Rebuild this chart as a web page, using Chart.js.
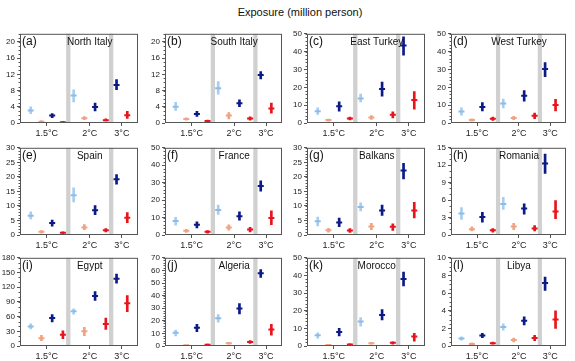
<!DOCTYPE html>
<html>
<head>
<meta charset="utf-8">
<script src="https://cdn.jsdelivr.net/npm/chart.js@4.4.1/dist/chart.umd.min.js"></script>
<style>
body { margin: 0; background: #fff; width: 575px; height: 361px; position: relative; overflow: hidden; font-family: "Liberation Sans", Arial, sans-serif; }
#title { position: absolute; left: 0; width: 600px; top: 6px; text-align: center; font-size: 11px; color: #111; }
canvas { position: absolute; }
</style>
</head>
<body>
<div id="title">Exposure (million person)</div>
<script>
// panels
const regions = ['North Italy', 'South Italy', 'East Turkey', 'West Turkey',
                 'Spain', 'France', 'Balkans', 'Romania',
                 'Egypt', 'Algeria', 'Morocco', 'Libya'];
const tags = ['(a)', '(b)', '(c)', '(d)', '(e)', '(f)', '(g)', '(h)', '(i)', '(j)', '(k)', '(l)'];
const yMax = [22, 22, 50, 50, 30, 50, 30, 15, 180, 70, 50, 10];
const yStep = [4, 4, 10, 10, 5, 10, 5, 3, 30, 10, 10, 2];

// x slots: warming level and series of each point
const levels = ['1.5°C', '2°C', '3°C'];
const slotLevel = [0, 0, 0, 0, 1, 1, 1, 1, 2, 2];
const slotSeries = [0, 1, 2, 3, 0, 1, 2, 3, 2, 3];

// values per panel, one entry per slot
const mean = [
  [3.1, 0.3, 1.85, 0.2, 6.8, 1.2, 3.95, 0.7, 9.4, 1.9],
  [4.0, 1.0, 2.25, 0.5, 8.6, 1.85, 4.9, 1.1, 11.85, 3.6],
  [6.6, 1.65, 9.4, 2.5, 13.8, 3.1, 19.1, 4.6, 43.4, 12.9],
  [6.4, 1.65, 9.0, 2.4, 11.0, 2.75, 15.3, 4.0, 30.3, 10.1],
  [6.6, 1.1, 4.1, 0.8, 13.7, 2.6, 8.5, 1.65, 19.2, 5.9],
  [8.0, 2.4, 5.9, 1.85, 14.4, 4.25, 10.7, 3.1, 28.1, 9.8],
  [4.7, 1.65, 4.3, 1.55, 9.6, 2.9, 8.4, 2.8, 22.2, 8.4],
  [3.7, 1.0, 3.1, 0.8, 5.35, 1.45, 4.55, 1.1, 12.3, 4.05],
  [40, 16, 57, 23, 71, 30, 102, 45, 137, 87],
  [10.6, 0.5, 14.5, 1.0, 22.0, 2.1, 29.8, 3.1, 57.8, 13.0],
  [6.1, 0.55, 7.9, 0.9, 13.9, 1.5, 17.6, 1.8, 38.0, 5.4],
  [0.85, 0.22, 1.2, 0.3, 2.15, 0.67, 2.85, 0.92, 7.15, 3.0]
];
const low = [
  [2.3, 0.1, 1.3, 0.1, 5.2, 0.8, 3.0, 0.5, 8.2, 1.1],
  [3.1, 0.7, 1.6, 0.3, 7.1, 1.0, 4.0, 0.7, 10.9, 2.4],
  [4.8, 1.0, 6.6, 1.7, 11.8, 2.0, 15.0, 2.8, 38.0, 7.7],
  [4.4, 1.0, 6.8, 1.5, 8.5, 1.8, 12.3, 2.4, 26.0, 6.8],
  [5.5, 0.6, 3.0, 0.4, 11.4, 1.8, 7.0, 1.1, 17.5, 4.2],
  [5.6, 1.5, 4.1, 1.1, 11.8, 2.8, 8.5, 1.8, 25.2, 5.9],
  [3.1, 1.0, 2.9, 0.9, 8.3, 1.8, 6.7, 1.6, 19.3, 5.9],
  [2.7, 0.7, 2.2, 0.5, 4.4, 0.9, 3.6, 0.7, 10.6, 2.8],
  [35, 11, 49, 15, 65, 21, 93, 34, 128, 70],
  [8.0, 0.2, 11.4, 0.5, 19.0, 1.4, 25.4, 2.0, 54.4, 8.6],
  [4.4, 0.3, 5.7, 0.5, 11.3, 1.0, 14.8, 1.1, 34.1, 2.8],
  [0.65, 0.1, 0.95, 0.2, 1.8, 0.45, 2.4, 0.6, 6.3, 2.0]
];
const high = [
  [4.0, 0.6, 2.3, 0.4, 8.2, 1.6, 4.9, 1.0, 10.7, 2.9],
  [5.1, 1.3, 2.9, 0.7, 10.2, 2.6, 5.7, 1.5, 12.7, 4.9],
  [8.5, 2.2, 11.8, 3.3, 16.2, 4.2, 23.0, 6.3, 48.3, 17.6],
  [8.5, 2.3, 11.4, 3.3, 13.4, 3.7, 18.2, 5.5, 33.8, 13.2],
  [8.0, 1.5, 5.1, 1.1, 16.2, 3.6, 10.1, 2.2, 20.8, 7.7],
  [10.2, 3.3, 7.6, 2.6, 17.2, 5.9, 13.3, 4.4, 31.1, 13.9],
  [6.2, 2.3, 5.8, 2.2, 11.1, 4.0, 10.3, 3.8, 24.7, 11.2],
  [4.7, 1.4, 3.9, 1.1, 6.5, 2.0, 5.35, 1.6, 13.9, 5.9],
  [45, 22, 64, 31, 76, 38, 111, 57, 147, 103],
  [12.7, 0.8, 17.1, 1.5, 25.0, 2.8, 33.7, 4.3, 60.7, 17.1],
  [7.4, 0.9, 10.0, 1.3, 16.1, 2.0, 20.7, 2.4, 41.9, 7.2],
  [1.05, 0.35, 1.45, 0.45, 2.5, 0.9, 3.3, 1.2, 7.8, 4.0]
];

const seriesColors = ['#8cbde8', '#f3a27f', '#0c1a86', '#e8141c'];
const barColors = ['#a8cdee', '#f3a27f', '#0c1a86', '#e8141c'];

// layout of the 4 x 3 grid of plot areas
const plotLeft = [20, 165, 307, 451];
const plotW = [121, 120, 121, 118];
const plotTop = [31, 145, 255];
const plotH = [92, 90, 91];
const padL = 24, padT = 4, padR = 3, padB = 20;

const xs = slotLevel.map((_, i) => i + 1);
const levelAt = levels.map((_, k) => {
  const s = xs.filter((x, i) => slotLevel[i] === k);
  return s.reduce((a, b) => a + b, 0) / s.length;
});
const bands = [1, 2].map(k => (xs[slotLevel.indexOf(k) - 1] + xs[slotLevel.indexOf(k)]) / 2);

const panelDecor = {
  id: 'panelDecor',
  beforeDatasetsDraw(chart, args, o) {
    const { ctx, chartArea: a, scales: { x, y } } = chart;
    ctx.save();
    ctx.fillStyle = '#d0d0d0';
    o.bands.forEach(b => {
      const l = x.getPixelForValue(b - 0.2), r = x.getPixelForValue(b + 0.2);
      ctx.fillRect(l, a.top, r - l, a.bottom - a.top);
    });
    // minor ticks
    ctx.strokeStyle = '#555';
    ctx.lineWidth = 1;
    for (let v = 0; v <= o.max + 1e-9; v += o.minor) {
      const py = Math.round(y.getPixelForValue(v)) + 0.5;
      ctx.beginPath();
      ctx.moveTo(a.left - 1.5, py);
      ctx.lineTo(a.left, py);
      ctx.stroke();
    }
    ctx.restore();
  },
  afterDraw(chart, args, o) {
    const { ctx, chartArea: a, scales: { x } } = chart;
    ctx.save();
    ctx.strokeStyle = '#555';
    ctx.lineWidth = 1;
    ctx.strokeRect(a.left + 0.5, a.top + 0.5, a.right - a.left - 1, a.bottom - a.top - 1);
    ctx.fillStyle = '#111';
    ctx.textBaseline = 'top';
    ctx.font = '12px "Liberation Sans", Arial, sans-serif';
    ctx.textAlign = 'left';
    ctx.fillText(o.tag, a.left + 2, a.top + 2);
    ctx.font = '10px "Liberation Sans", Arial, sans-serif';
    ctx.textAlign = 'center';
    ctx.fillText(o.name, x.getPixelForValue(o.nameAt), a.top + 3);
    ctx.restore();
  }
};

function minorStep(step) {
  if (step === 3 || step === 30) return step / 3;
  if (step === 4 || step === 2) return step / 4;
  return step / 5;
}

regions.forEach((name, p) => {
  const r = Math.floor(p / 4), c = p % 4;
  const W = padL + plotW[c] + padR, H = padT + plotH[r] + padB;
  const cv = document.createElement('canvas');
  cv.width = W; cv.height = H;
  cv.style.left = (plotLeft[c] - padL) + 'px';
  cv.style.top = (plotTop[r] - padT) + 'px';
  cv.style.width = W + 'px';
  cv.style.height = H + 'px';
  document.body.appendChild(cv);

  const majors = [];
  for (let v = 0; v <= yMax[p] + 1e-9; v += yStep[p]) majors.push({ value: v });

  new Chart(cv, {
    type: 'scatter',
    data: {
      datasets: [{
        type: 'bar',
        data: xs.map((x, i) => ({ x: x, y: [low[p][i], high[p][i]] })),
        backgroundColor: slotSeries.map(s => barColors[s]),
        barThickness: 2,
        order: 2
      }, {
        data: xs.map((x, i) => ({ x: x, y: mean[p][i] })),
        pointStyle: 'line',
        radius: 3,
        borderWidth: 2,
        borderColor: slotSeries.map(s => seriesColors[s]),
        backgroundColor: slotSeries.map(s => seriesColors[s]),
        order: 1
      }]
    },
    options: {
      responsive: false,
      animation: false,
      devicePixelRatio: 1,
      layout: { padding: { left: 0, top: padT, right: padR, bottom: 0 } },
      plugins: {
        legend: { display: false },
        tooltip: { enabled: false },
        panelDecor: { bands: bands, tag: tags[p], name: name, nameAt: levelAt[1], max: yMax[p], minor: minorStep(yStep[p]) }
      },
      scales: {
        x: {
          type: 'linear',
          min: 0,
          max: 11,
          offset: false,
          afterFit: s => { s.height = padB; },
          afterBuildTicks: s => { s.ticks = levelAt.map(v => ({ value: v })); },
          grid: { display: true, drawOnChartArea: false, drawTicks: true, tickLength: 3, color: '#555', offset: false },
          border: { display: false },
          ticks: {
            autoSkip: false,
            maxRotation: 0,
            padding: 2,
            color: '#222',
            font: { size: 9, family: '"Liberation Sans", Arial, sans-serif' },
            callback: v => levels[levelAt.indexOf(v)]
          }
        },
        y: {
          min: 0,
          max: yMax[p],
          afterFit: s => { s.width = padL; },
          afterBuildTicks: s => { s.ticks = majors.map(t => ({ value: t.value })); },
          grid: { display: true, drawOnChartArea: false, drawTicks: true, tickLength: 3, color: '#555' },
          border: { display: false },
          ticks: {
            autoSkip: false,
            padding: 2,
            color: '#222',
            font: { size: 8, family: '"Liberation Sans", Arial, sans-serif' }
          }
        }
      }
    },
    plugins: [panelDecor]
  });
});
</script>
</body>
</html>
